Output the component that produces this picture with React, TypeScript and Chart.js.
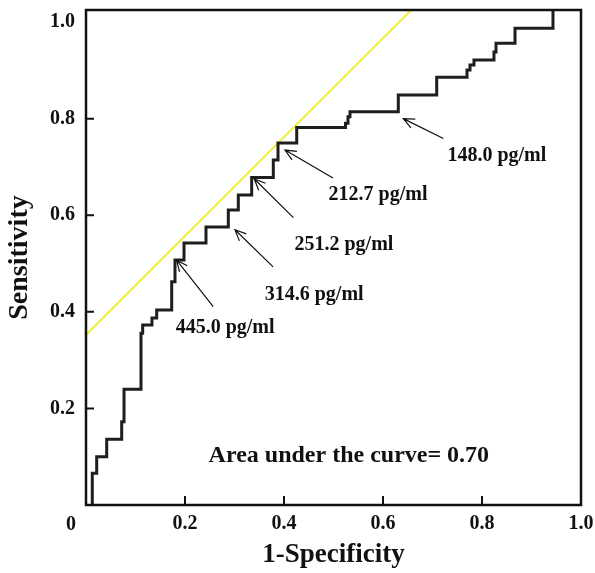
import React, { useEffect, useRef } from 'react';
import { Chart, registerables } from 'chart.js';

Chart.register(...registerables);

// ROC curve vertices (1-Specificity, Sensitivity)
const rocFpr = [0.0127, 0.0127, 0.0216, 0.0418, 0.0721, 0.0768, 0.1111, 0.1145, 0.1333, 0.1428, 0.1731, 0.1798, 0.198, 0.2424, 0.2875, 0.3077, 0.3347, 0.3784, 0.3879, 0.4257, 0.5242, 0.5293, 0.5333, 0.6309, 0.7085, 0.7697, 0.7758, 0.7838, 0.8242, 0.8283, 0.8667, 0.9434];
const rocTpr = [0, 0.0657, 0.1, 0.136, 0.1725, 0.2396, 0.3555, 0.3726, 0.3872, 0.4037, 0.4623, 0.5073, 0.5424, 0.5756, 0.6107, 0.6418, 0.6781, 0.7142, 0.7495, 0.7816, 0.7903, 0.8039, 0.8143, 0.8489, 0.8856, 0.9006, 0.911, 0.9213, 0.9379, 0.9559, 0.987, 1.025];

// Tangent (yellow) line end points
const tangentX = [0, 0.657];
const tangentY = [0.352, 1.025];

// Tick values
const xTickValues = [0.2, 0.4, 0.6, 0.8, 1.0];
const yTickValues = [0.2, 0.4, 0.6, 0.8, 1.0];
const originLabel = '0';

// Cut-off annotations (data coordinates)
const cutoffLabels = ['148.0 pg/ml', '212.7 pg/ml', '251.2 pg/ml', '314.6 pg/ml', '445.0 pg/ml'];
const arrowTipX = [0.641, 0.402, 0.340, 0.301, 0.183];
const arrowTipY = [0.800, 0.735, 0.675, 0.570, 0.507];
const arrowTailX = [0.722, 0.499, 0.419, 0.378, 0.257];
const arrowTailY = [0.759, 0.677, 0.595, 0.493, 0.411];
const labelX = [0.830, 0.590, 0.521, 0.461, 0.281];
const labelY = [0.712, 0.632, 0.528, 0.425, 0.356];

const aucText = 'Area under the curve= 0.70';
const aucX = 0.531;
const aucY = 0.089;

const FONT = '"Liberation Serif", "Times New Roman", serif';

const decorPlugin = {
  id: 'decor',
  afterDraw(chart: any) {
    const { ctx, chartArea } = chart;
    const xs = chart.scales.x;
    const ys = chart.scales.y;
    ctx.save();
    // frame
    ctx.strokeStyle = '#111';
    ctx.lineWidth = 2.5;
    ctx.strokeRect(chartArea.left, chartArea.top, chartArea.right - chartArea.left, chartArea.bottom - chartArea.top);
    // inward tick marks
    ctx.lineWidth = 2;
    ctx.beginPath();
    for (const v of xTickValues) {
      if (v >= 1) continue;
      const px = xs.getPixelForValue(v);
      ctx.moveTo(px, chartArea.bottom);
      ctx.lineTo(px, chartArea.bottom - 9);
    }
    for (const v of yTickValues) {
      if (v >= 1) continue;
      const py = ys.getPixelForValue(v);
      ctx.moveTo(chartArea.left, py);
      ctx.lineTo(chartArea.left + 8, py);
    }
    ctx.stroke();

    // origin label
    ctx.fillStyle = '#111';
    ctx.font = `bold 20px ${FONT}`;
    ctx.textAlign = 'center';
    ctx.textBaseline = 'alphabetic';
    ctx.fillText(originLabel, chartArea.left - 15, chartArea.bottom + 25);

    // annotations
    ctx.strokeStyle = '#111';
    ctx.lineWidth = 1.2;
    for (let i = 0; i < cutoffLabels.length; i++) {
      const tx = xs.getPixelForValue(arrowTipX[i]);
      const ty = ys.getPixelForValue(arrowTipY[i]);
      const sx = xs.getPixelForValue(arrowTailX[i]);
      const sy = ys.getPixelForValue(arrowTailY[i]);
      const ang = Math.atan2(sy - ty, sx - tx);
      const head = 12;
      const spread = 0.42;
      ctx.beginPath();
      ctx.moveTo(sx, sy);
      ctx.lineTo(tx, ty);
      ctx.moveTo(tx + head * Math.cos(ang + spread), ty + head * Math.sin(ang + spread));
      ctx.lineTo(tx, ty);
      ctx.lineTo(tx + head * Math.cos(ang - spread), ty + head * Math.sin(ang - spread));
      ctx.stroke();
      ctx.font = `bold 20px ${FONT}`;
      ctx.textAlign = 'center';
      ctx.textBaseline = 'alphabetic';
      ctx.fillText(cutoffLabels[i], xs.getPixelForValue(labelX[i]), ys.getPixelForValue(labelY[i]));
    }
    ctx.font = `bold 24px ${FONT}`;
    ctx.fillText(aucText, xs.getPixelForValue(aucX), ys.getPixelForValue(aucY));
    ctx.restore();
  },
};

export default function App() {
  const ref = useRef<HTMLCanvasElement | null>(null);
  useEffect(() => {
    if (!ref.current) return;
    const chart = new Chart(ref.current, {
      type: 'line',
      data: {
        datasets: [
          {
            data: rocFpr.map((x, i) => ({ x, y: rocTpr[i] })),
            borderColor: '#1e1e1e',
            borderWidth: 3,
            pointRadius: 0,
            stepped: 'before',
            fill: false,
          },
          {
            data: tangentX.map((x, i) => ({ x, y: tangentY[i] })),
            borderColor: '#f0ee3c',
            borderWidth: 2,
            pointRadius: 0,
            fill: false,
          },
        ],
      },
      options: {
        responsive: false,
        animation: false,
        layout: { padding: { top: 10, right: 14, left: 0, bottom: 0 } },
        plugins: { legend: { display: false }, tooltip: { enabled: false } },
        scales: {
          x: {
            type: 'linear',
            min: 0,
            max: 1,
            grid: { display: false, drawTicks: false },
            border: { display: false },
            afterBuildTicks: (s: any) => { s.ticks = xTickValues.map((v) => ({ value: v })); },
            afterFit: (s: any) => { s.height = 68; s.paddingLeft = 0; s.paddingRight = 0; s.paddingTop = 0; s.paddingBottom = 0; },
            ticks: {
              color: '#111',
              padding: 9,
              font: { family: FONT, size: 20, weight: 'bold', lineHeight: 1 },
              callback: (v: any) => (Number(v) === 1 ? '1.0' : String(v)),
            },
            title: {
              display: true,
              text: '1-Specificity',
              color: '#111',
              font: { family: FONT, size: 27, weight: 'bold', lineHeight: 1.2 },
              padding: { top: 0, bottom: 2 },
            },
          },
          y: {
            type: 'linear',
            min: 0,
            max: 1.025,
            grid: { display: false, drawTicks: false },
            border: { display: false },
            afterBuildTicks: (s: any) => { s.ticks = yTickValues.map((v) => ({ value: v })); },
            afterFit: (s: any) => { s.width = 86; s.paddingLeft = 0; s.paddingRight = 0; s.paddingTop = 0; s.paddingBottom = 0; },
            ticks: {
              color: '#111',
              padding: 11,
              font: { family: FONT, size: 20, weight: 'bold', lineHeight: 1 },
              callback: (v: any) => Number(v).toFixed(1),
            },
            title: {
              display: true,
              text: 'Sensitivity',
              color: '#111',
              font: { family: FONT, size: 28, weight: 'bold', lineHeight: 1.2 },
              padding: { top: 3, bottom: 0 },
            },
          },
        },
      },
      plugins: [decorPlugin],
    } as any);
    return () => chart.destroy();
  }, []);
  return (
    <div style={{ position: 'fixed', left: 0, top: 0, width: 595, height: 573, background: '#fff' }}>
      <canvas ref={ref} width={595} height={573} style={{ display: 'block' }} />
    </div>
  );
}
